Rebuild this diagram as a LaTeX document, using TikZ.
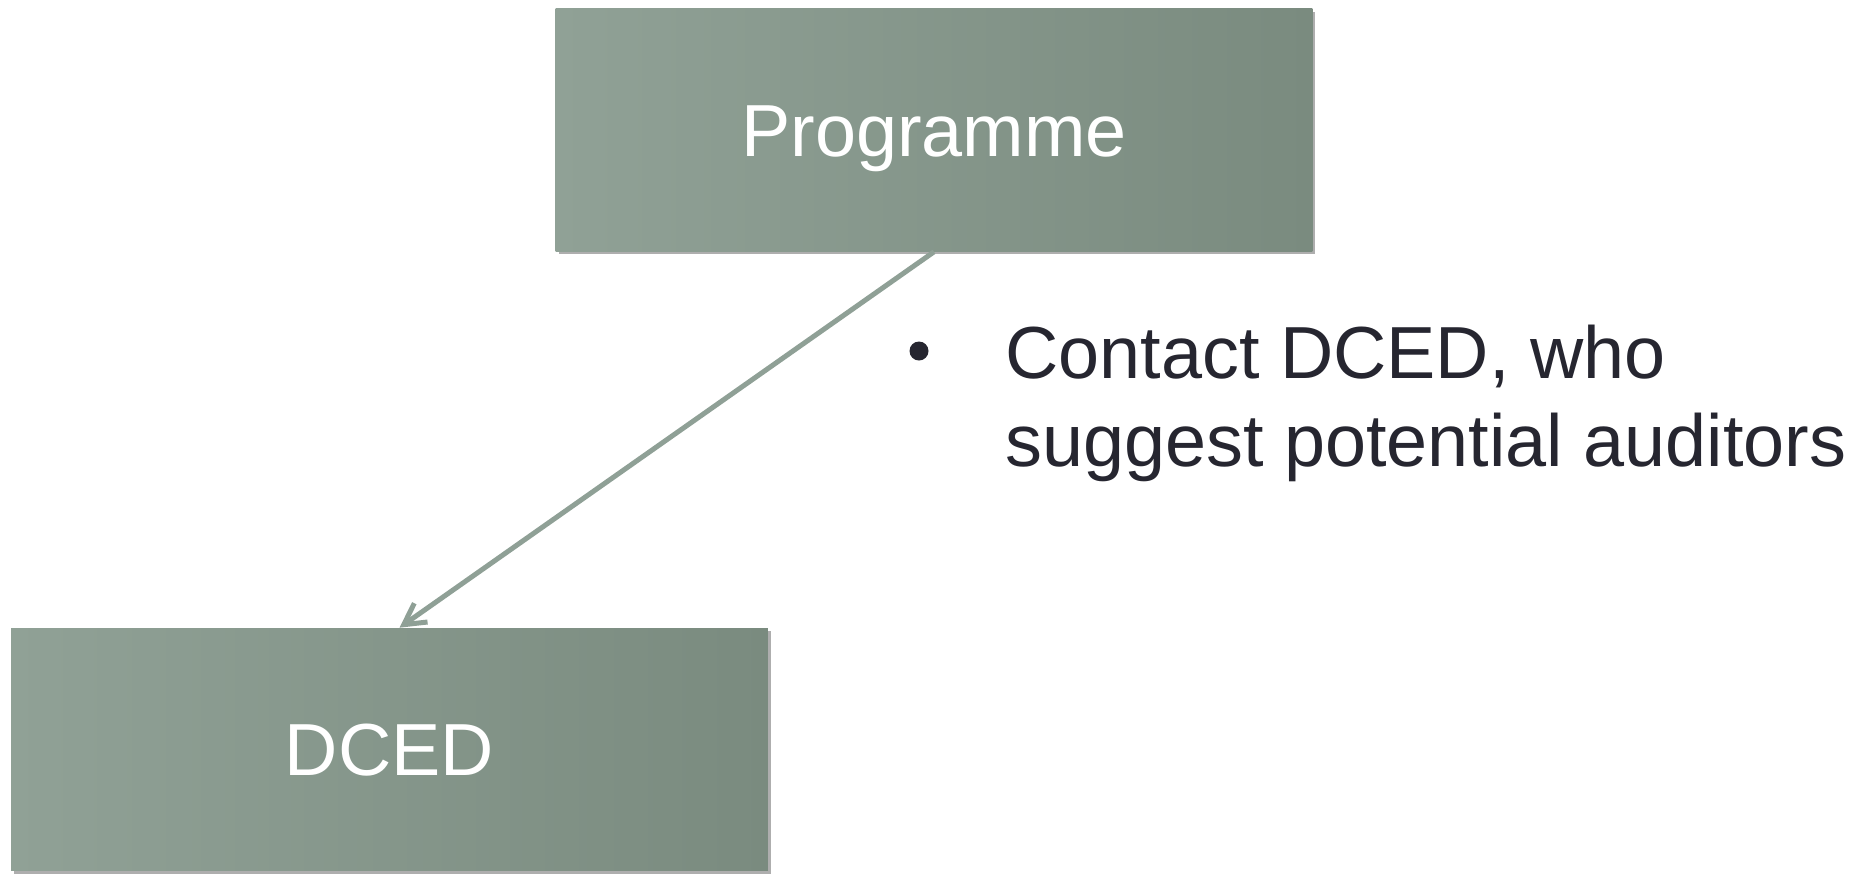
\documentclass[tikz,border=0pt]{standalone}
\usepackage{fontspec}
\setmainfont{Liberation Sans}
\usetikzlibrary{arrows.meta,shadows}
\definecolor{boxleft}{RGB}{144,161,150}
\definecolor{boxright}{RGB}{122,139,127}
\definecolor{linkcol}{RGB}{143,160,150}
\definecolor{bullettext}{RGB}{38,38,48}
\begin{document}
\begin{tikzpicture}[
    x=0.02cm,y=-0.02cm,
    box/.style={rectangle,minimum width=15.14cm,minimum height=4.86cm,inner sep=0pt,
      text height=30pt,text depth=0pt,
      left color=boxleft,right color=boxright,text=white,font=\fontsize{42}{50}\selectfont,
      drop shadow={shadow xshift=0.06cm,shadow yshift=-0.06cm,opacity=0.45,fill=black!70}},
    line/.style={line width=0.1cm,linkcol,-{Straight Barb[length=0.42cm,width=0.46cm,line width=0.1cm]}},
    words/.style={anchor=base west,inner sep=0pt,text=bullettext,font=\fontsize{42}{50}\selectfont}
    ]
    \useasboundingbox (0,0) rectangle (1864,873);
    \node[box] (prog) at (934,130) {Programme};
    \node[box] (dced) at (389.5,749.5) {DCED};
    \draw[line] (prog.south) -- ([xshift=0.2cm]dced.north);
    % bullet text
    \node[circle,fill=bullettext,inner sep=0pt,minimum size=0.38cm] (dot) at (919,351) {};
    \node[words] (cont1) at (1005,378) {Contact DCED, who};
    \node[words] (cont2) at (1005,466) {suggest potential auditors};
  \end{tikzpicture}
\end{document}
